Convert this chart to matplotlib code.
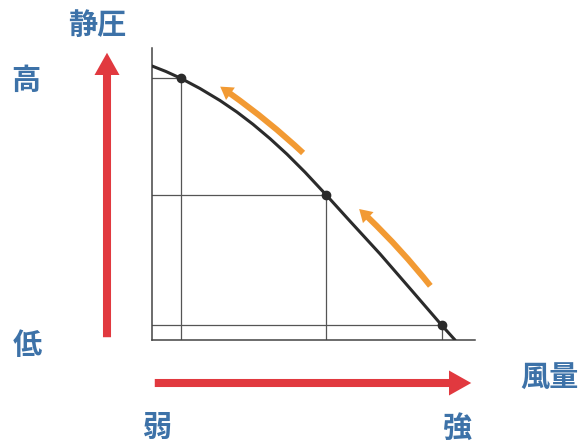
import matplotlib
matplotlib.use("Agg")
import matplotlib.pyplot as plt
from matplotlib.patches import FancyArrowPatch

plt.rcParams['font.family'] = ['Noto Sans CJK JP', 'DejaVu Sans']

# fan curve, values in % of axis range (airflow, static pressure)
curve_flow = [0, 4.33, 8.98, 14.86, 21.05, 26.32, 31.27, 36.53, 41.80,
              47.37, 53.95, 61.22, 70.59, 79.88, 89.63, 93.81]
curve_pressure = [93.84, 91.95, 89.59, 86.13, 82.02, 78.05, 73.87, 68.97, 63.63,
                  57.47, 49.66, 40.79, 29.49, 17.64, 5.14, 0]

# operating points on the curve
op_flow = [8.98, 53.95, 89.63]
op_pressure = [89.59, 49.66, 5.14]

# orange "shift" arrows (tail -> head)
shift_from = [(47.4, 63.4), (86.7, 17.8)]
shift_to = [(20.4, 87.3), (63.5, 45.5)]

label_y = "静圧"
label_x = "風量"
y_high, y_low = "高", "低"
x_weak, x_strong = "弱", "強"

RED = "#E1393F"
BLUE = "#3D72A8"
ORANGE = "#F29A33"
DARK = "#2b2b2b"

fig = plt.figure(figsize=(5.82, 4.43), dpi=100)
ax = fig.add_axes([152/582, 103/443, 323/582, 292/443])
ax.set_xlim(0, 100)
ax.set_ylim(0, 100)
for s in ["top", "right"]:
    ax.spines[s].set_visible(False)
for s in ["left", "bottom"]:
    ax.spines[s].set_color("#444444")
    ax.spines[s].set_linewidth(1.1)
ax.set_xticks([])
ax.set_yticks([])

# guide lines from each operating point to the axes
for fx, py in zip(op_flow, op_pressure):
    ax.plot([0, fx], [py, py], color="#555555", lw=0.9, zorder=1)
    ax.plot([fx, fx], [0, py], color="#555555", lw=0.9, zorder=1)

ax.plot(curve_flow, curve_pressure, color=DARK, lw=2.2, zorder=3,
        solid_capstyle="round", solid_joinstyle="round")
ax.plot(op_flow, op_pressure, "o", color=DARK, ms=6, zorder=4)

for (x0, y0), (x1, y1) in zip(shift_from, shift_to):
    arr = FancyArrowPatch((x0, y0), (x1, y1),
                          connectionstyle="arc3,rad=0.04",
                          arrowstyle="simple,head_width=11,head_length=9,tail_width=4.3",
                          color=ORANGE, lw=0, zorder=2)
    ax.add_patch(arr)

# big red direction arrows
v_arr = FancyArrowPatch((107/582, 1-340/443), (107/582, 1-50/443),
                        transform=fig.transFigure,
                        arrowstyle="simple,head_width=18,head_length=16,tail_width=5.8",
                        color=RED, lw=0)
h_arr = FancyArrowPatch((152/582, 1-383/443), (474/582, 1-383/443),
                        transform=fig.transFigure,
                        arrowstyle="simple,head_width=18,head_length=16,tail_width=5.8",
                        color=RED, lw=0)
fig.add_artist(v_arr)
fig.add_artist(h_arr)

tkw = dict(color=BLUE, fontsize=21, fontweight="bold", ha="center", va="center")
fig.text(97/582, 1-25/443, label_y, **tkw)
fig.text(26/582, 1-80/443, y_high, **tkw)
fig.text(27/582, 1-345/443, y_low, **tkw)
fig.text(549/582, 1-377/443, label_x, **tkw)
fig.text(158/582, 1-427/443, x_weak, **tkw)
fig.text(458/582, 1-428/443, x_strong, **tkw)

fig.savefig("out.png", dpi=100)
